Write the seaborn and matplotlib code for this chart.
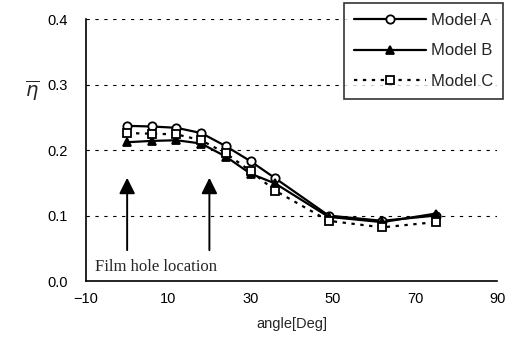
import matplotlib
matplotlib.use("Agg")
import matplotlib.pyplot as plt
import seaborn as sns
import pandas as pd

angle = [0, 6, 12, 18, 24, 30, 36, 49, 62, 75]
model_a = [0.237, 0.236, 0.234, 0.226, 0.206, 0.183, 0.157, 0.100, 0.092, 0.100]
model_b = [0.212, 0.214, 0.215, 0.210, 0.190, 0.164, 0.149, 0.098, 0.090, 0.103]
model_c = [0.226, 0.225, 0.224, 0.215, 0.195, 0.168, 0.138, 0.092, 0.082, 0.090]
series_names = ["Model A", "Model B", "Model C"]
arrow_x = [0, 20]
x_ticks = [-10, 10, 30, 50, 70, 90]
y_ticks = [0.0, 0.1, 0.2, 0.3, 0.4]

sns.set_theme(style="white")
plt.rcParams['font.family'] = ['Liberation Sans', 'DejaVu Sans']

df = pd.DataFrame({
    "angle": angle * 3,
    "eta": model_a + model_b + model_c,
    "model": [series_names[0]] * len(angle) + [series_names[1]] * len(angle) + [series_names[2]] * len(angle),
})

fig = plt.figure(figsize=(5.16, 3.47), dpi=100)
ax = fig.add_axes([0.1667, 0.19, 0.797, 0.755])

styles = {
    "Model A": dict(marker="o", linestyle="-", mfc="white"),
    "Model B": dict(marker="^", linestyle="-", mfc="black"),
    "Model C": dict(marker="s", linestyle=(0, (1.5, 2.5)), mfc="white"),
}
for name in series_names:
    sub = df[df["model"] == name]
    st = styles[name]
    sns.lineplot(data=sub, x="angle", y="eta", ax=ax, color="black", lw=1.6,
                 marker=st["marker"], linestyle=st["linestyle"], markersize=6,
                 markerfacecolor=st["mfc"], markeredgecolor="black", markeredgewidth=1.3,
                 label=name)

for y in y_ticks[1:]:
    ax.axhline(y, color="black", lw=0.8, ls=(0, (3, 5)), zorder=0)

for xa in arrow_x:
    ax.annotate("", xy=(xa, 0.162), xytext=(xa, 0.043),
                arrowprops=dict(arrowstyle="-|>", color="black", lw=1.4,
                                mutation_scale=24))
ax.text(-7.8, 0.021, "Film hole location", fontsize=12, family="Liberation Serif",
        ha="left", va="center")

ax.set_xlim(-10, 90)
ax.set_ylim(0, 0.4)
ax.set_xticks(x_ticks)
ax.set_yticks(y_ticks)
ax.set_xticklabels(["\u221210", "10", "30", "50", "70", "90"])
ax.set_yticklabels([f"{v:.1f}" for v in y_ticks])
ax.tick_params(axis="y", direction="in", length=3, width=1, labelsize=10.5, colors="black", pad=13)
ax.tick_params(axis="x", direction="in", length=3, width=1, labelsize=10.5, colors="black", pad=8)
ax.set_xlabel("angle[Deg]", fontsize=10.5, labelpad=8)
ax.set_ylabel("")
fig.text(0.062, 0.74, r"$\overline{\eta}$", fontsize=14, ha="center", va="center")

for s in ["top", "right"]:
    ax.spines[s].set_visible(False)
for s in ["left", "bottom"]:
    ax.spines[s].set_color("black")
    ax.spines[s].set_linewidth(1.2)

leg = ax.legend(loc="upper right", bbox_to_anchor=(1.035, 1.095), frameon=True,
                fancybox=False, edgecolor="black", fontsize=12, handlelength=4.3,
                borderpad=0.6, labelspacing=0.95, handletextpad=0.3)
leg.get_frame().set_linewidth(1.2)

fig.savefig("out.png", dpi=100)
